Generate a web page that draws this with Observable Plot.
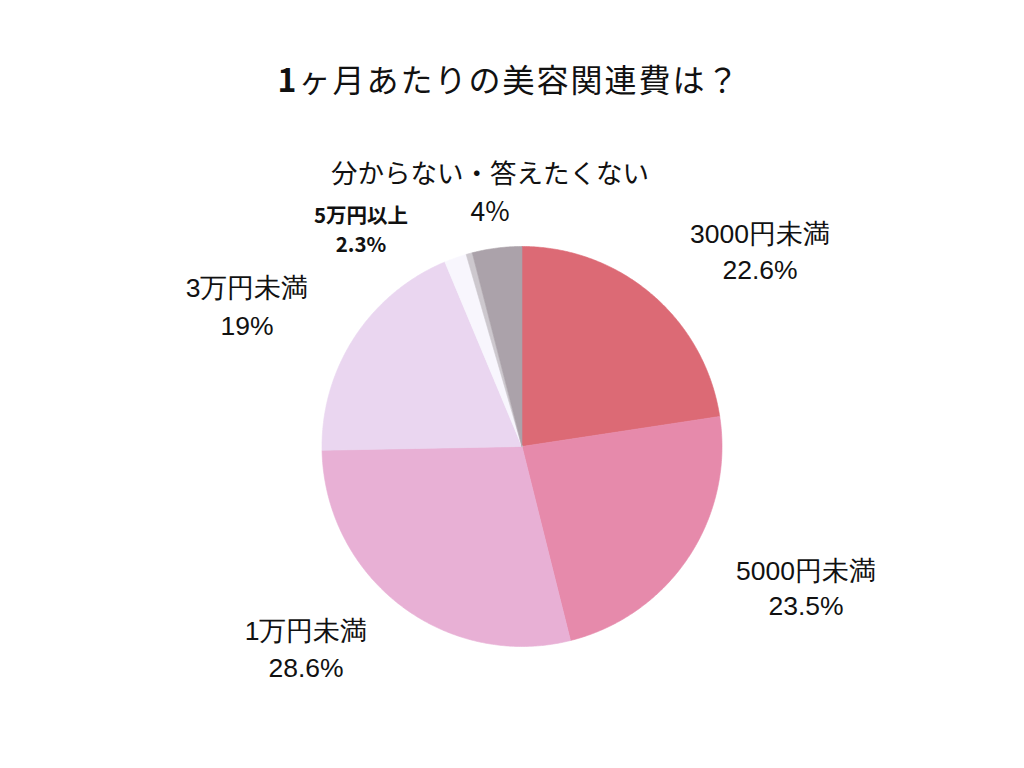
<!DOCTYPE html>
<html>
<head>
<meta charset="utf-8">
<script src="https://cdn.jsdelivr.net/npm/d3@7"></script>
<script src="https://cdn.jsdelivr.net/npm/@observablehq/plot@0.6"></script>
<style>
  body { margin: 0; background: #fff; width: 1024px; height: 768px; overflow: hidden; }
  #title { height: 130px; box-sizing: border-box; padding-top: 57px; text-align: center;
    font-family: "Noto Sans CJK JP", sans-serif; font-size: 32px; line-height: 42px; color: #111;
    letter-spacing: 2px; padding-right: 6px; }
  #title b { font-weight: 700; }
</style>
</head>
<body>
<div id="title"><b>1</b>ヶ月あたりの美容関連費は？</div>
<div id="chart"></div>
<script>
// Slice data (clockwise from 12 o'clock)
const categories = ["3000円未満", "5000円未満", "1万円未満", "3万円未満", "5万円以上", "5万円以上(b)", "分からない・答えたくない"];
const values = [22.6, 23.5, 28.6, 19, 1.8, 0.5, 4];
const colors = ["#dc6a75", "#e68aab", "#e8b0d5", "#ead6f0", "#f8f6fd", "#cdc8ce", "#aba2aa"];

// Labels
const labelNames = ["3000円未満", "5000円未満", "1万円未満", "3万円未満", "5万円以上", "分からない・答えたくない"];
const labelPercents = ["22.6%", "23.5%", "28.6%", "19%", "2.3%", "4%"];

// Label layout (in pie-radius units, centre = 0,0) — layout only
const labelLayout = [
  {nx: 1.19,  ny: 1.06,  px: 1.19,  py: 0.88,  font: "Liberation Sans", size: 26.5, weight: 400},
  {nx: 1.42,  ny: -0.625, px: 1.42, py: -0.80, font: "Liberation Sans", size: 26.5, weight: 400},
  {nx: -1.08, ny: -0.925, px: -1.08, py: -1.108, font: "Liberation Sans", size: 26.5, weight: 400},
  {nx: -1.375, ny: 0.79, px: -1.375, py: 0.60, font: "Liberation Sans", size: 26.5, weight: 400},
  {nx: -0.805, ny: 1.15, px: -0.805, py: 1.005, font: "Noto Sans CJK JP", size: 20.5, weight: 700},
  {nx: -0.16, ny: 1.36,  px: -0.16, py: 1.17, font: "Noto Sans CJK JP", size: 26.5, weight: 400}
];

// Build slice polygons from values
const total = d3.sum(values);
const polys = [];
let acc = 0;
values.forEach((v, i) => {
  const a0 = acc / total * 2 * Math.PI;
  acc += v;
  const a1 = acc / total * 2 * Math.PI;
  polys.push({key: i, x: 0, y: 0, color: colors[i]});
  const n = Math.max(2, Math.ceil((a1 - a0) / (Math.PI / 360)));
  for (let k = 0; k <= n; k++) {
    const a = a0 + (a1 - a0) * k / n;
    polys.push({key: i, x: Math.sin(a), y: Math.cos(a), color: colors[i]});
  }
  polys.push({key: i, x: 0, y: 0, color: colors[i]});
});

const labels = labelNames.map((name, i) => ({name, pct: labelPercents[i], ...labelLayout[i]}));

const W = 1024, H = 638, R = 200, cx = 521.5, cy = 316;
const textMarks = [];
labels.forEach(l => {
  textMarks.push(Plot.text([l], {x: "nx", y: "ny", text: "name", fontSize: l.size, fontFamily: l.font, fontWeight: l.weight, fill: "#111"}));
  textMarks.push(Plot.text([l], {x: "px", y: "py", text: "pct", fontSize: l.size, fontFamily: l.font, fontWeight: l.weight, fill: "#111"}));
});

const chart = Plot.plot({
  width: W, height: H,
  margin: 0,
  x: {domain: [-cx / R, (W - cx) / R], axis: null},
  y: {domain: [-(H - cy) / R, cy / R], axis: null},
  color: {type: "identity"},
  style: {background: "#fff"},
  marks: [
    Plot.line(polys, {x: "x", y: "y", z: "key", fill: "color", stroke: "color", strokeWidth: 0.6, curve: "linear"}),
    ...textMarks
  ]
});
document.getElementById("chart").appendChild(chart);
</script>
</body>
</html>
